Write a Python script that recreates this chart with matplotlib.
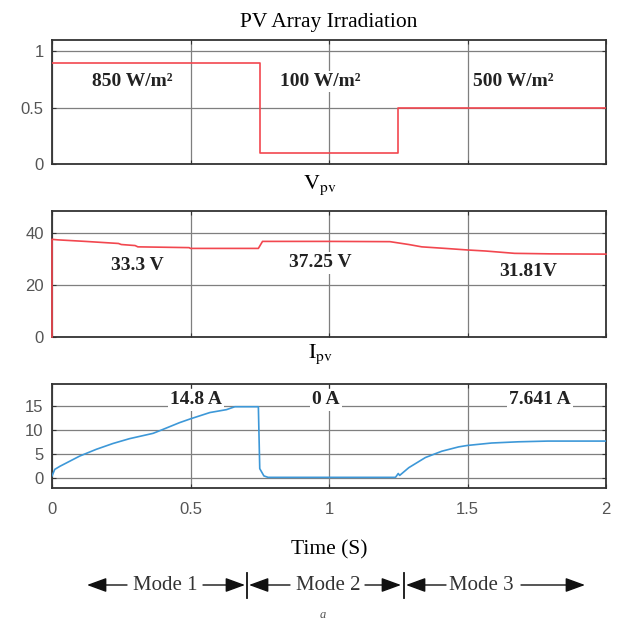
"""
PV array irradiation, voltage and current over the three operating modes
"""
import matplotlib
matplotlib.use('Agg')
import matplotlib.pyplot as plt

# irradiation step profile (per unit)
t_irr = [0.0, 0.75, 1.25, 2.0]
irr = [0.9, 0.1, 0.5, 0.5]
irr_labels = ['850 W/m²', '100 W/m²', '500 W/m²']

# PV voltage (V)
t_v = [0, 0, 0.02, 0.12, 0.24, 0.25, 0.30, 0.31, 0.495, 0.5, 0.745, 0.75, 0.76,
       1.0, 1.22, 1.288, 1.335, 1.42, 1.5, 1.565, 1.67, 1.8, 2.0]
v_pv = [0, 37.6, 37.4, 36.8, 36.0, 35.6, 35.2, 34.7, 34.4, 34.1, 34.1, 35.0, 36.8,
        36.8, 36.7, 35.6, 34.7, 34.1, 33.5, 33.1, 32.2, 32.0, 31.9]
v_labels = ['33.3 V', '37.25 V', '31.81V']

# PV current (A)
t_i = [0, 0.01, 0.029, 0.1, 0.16, 0.22, 0.28, 0.365, 0.40, 0.46, 0.5, 0.57, 0.63,
       0.66, 0.745, 0.75, 0.755, 0.765, 0.78, 1.0, 1.24, 1.25, 1.255, 1.288,
       1.348, 1.407, 1.468, 1.5, 1.587, 1.683, 1.79, 2.0]
i_pv = [0.5, 1.85, 2.5, 4.6, 6.0, 7.2, 8.2, 9.3, 10.1, 11.5, 12.3, 13.6, 14.2,
        14.8, 14.8, 2.0, 1.5, 0.5, 0.2, 0.2, 0.2, 1.0, 0.6, 2.2,
        4.3, 5.6, 6.5, 6.8, 7.3, 7.55, 7.7, 7.7]
i_labels = ['14.8 A', '0 A', '7.641 A']

modes = ['Mode 1', 'Mode 2', 'Mode 3']
x_ticks = [0, 0.5, 1, 1.5, 2]
x_ticklabels = ['0', '0.5', '1', '1.5', '2']

RED = '#f2474f'
BLUE = '#3d98d8'
SERIF = 'Liberation Serif'

plt.rcParams['font.family'] = 'Liberation Sans'
plt.rcParams['mathtext.fontset'] = 'stix'

W, H = 618, 621
fig = plt.figure(figsize=(W / 100, H / 100), dpi=100)


def px_axes(top, bottom):
    """axes rectangle from pixel rows"""
    return [52 / W, 1 - bottom / H, (606 - 52) / W, (bottom - top) / H]


def style(ax, yticks, ylim, show_x=False):
    ax.set_xlim(0, 2)
    ax.set_ylim(*ylim)
    ax.set_xticks(x_ticks)
    ax.set_yticks(yticks)
    ax.set_yticklabels([('%g' % y) for y in yticks])
    if show_x:
        ax.set_xticklabels(x_ticklabels)
    else:
        ax.set_xticklabels([])
    ax.grid(True, color='#7f7f7f', lw=0.9)
    ax.set_axisbelow(True)
    ax.tick_params(direction='in', length=3, top=True, right=True,
                   labelsize=12, labelcolor='#555555', color='#333333')
    ax.tick_params(axis='y', pad=6)
    ax.tick_params(axis='x', pad=10)
    for s in ax.spines.values():
        s.set_color('#333333')
        s.set_linewidth(1.3)


def label(ax, x, y, s):
    # white box hides the grid but stays under the trace
    ax.text(x, y, s, ha='center', va='center', fontsize=14, fontweight='bold',
            family=SERIF, color='#222222', zorder=2,
            bbox=dict(facecolor='white', edgecolor='none', pad=1.5))


# irradiation
ax1 = fig.add_axes(px_axes(40, 164))
ax1.plot(t_irr, irr, color=RED, lw=1.2, drawstyle='steps-post', zorder=3)
style(ax1, [0, 0.5, 1], (0, 1.1))
for x, s in zip([0.29, 0.97, 1.665], irr_labels):
    label(ax1, x, 0.73, s)

# voltage
ax2 = fig.add_axes(px_axes(211, 337))
ax2.plot(t_v, v_pv, color=RED, lw=1.2, zorder=3, clip_on=False)
style(ax2, [0, 20, 40], (0, 48.5))
for x, y, s in zip([0.31, 0.97, 1.72], [27.7, 28.5, 25.4], v_labels):
    label(ax2, x, y, s)

# current
ax3 = fig.add_axes(px_axes(384, 488))
ax3.plot(t_i, i_pv, color=BLUE, lw=1.2, zorder=3)
style(ax3, [0, 5, 10, 15], (-2, 19.5), show_x=True)
for x, s in zip([0.52, 0.99, 1.76], i_labels):
    label(ax3, x, 16.2, s)

# panel titles
fig.text(329 / W, 1 - 22 / H, 'PV Array Irradiation', ha='center', va='center',
         family=SERIF, fontsize=15.5)
fig.text(320 / W, 1 - 185 / H, r'$\mathrm{V_{pv}}$', ha='center', va='center',
         fontsize=16)
fig.text(320 / W, 1 - 354 / H, r'$\mathrm{I_{pv}}$', ha='center', va='center',
         fontsize=16)
fig.text(329 / W, 1 - 550 / H, 'Time (S)', ha='center', va='center',
         family=SERIF, fontsize=15.5)

# mode arrows below the time axis (pixel layout)
y_m = H - 585
segs = [  # left tip, left line end, text centre, right line start, right tip
    (87, 127, 165.5, 203, 245),
    (249, 290, 328, 365, 401),
    (406, 446, 481.5, 521, 585),
]
arrow = dict(arrowstyle='-|>,head_length=0.6,head_width=0.22', color='#111111',
             lw=1.0, mutation_scale=20, shrinkA=0, shrinkB=0)
for (lt, le, tc, rs, rt), name in zip(segs, modes):
    fig.text(tc / W, 1 - 585 / H, name, ha='center', va='center',
             family=SERIF, fontsize=15, color='#333333')
    fig.add_artist(plt.Annotation('', xy=(lt, y_m), xytext=(le, y_m),
                                  xycoords='figure pixels', arrowprops=arrow))
    fig.add_artist(plt.Annotation('', xy=(rt, y_m), xytext=(rs, y_m),
                                  xycoords='figure pixels', arrowprops=arrow))
for xb in [247, 404]:
    fig.add_artist(plt.Line2D([xb / W, xb / W], [1 - 573 / H, 1 - 598 / H],
                              color='#111111', lw=1.3))

fig.text(323 / W, 1 - 615 / H, 'a', ha='center', va='center', family=SERIF,
         fontsize=9, style='italic', color='#555555')

fig.savefig('out.png', dpi=100)
